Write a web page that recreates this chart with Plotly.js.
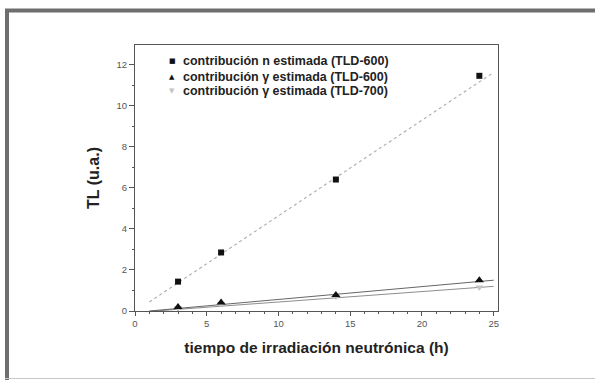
<!DOCTYPE html>
<html>
<head>
<meta charset="utf-8">
<script src="https://cdn.plot.ly/plotly-3.0.1.min.js"></script>
<style>
  body { margin:0; padding:0; background:#ffffff; }
  #myDiv { width:595px; height:380px; }
</style>
</head>
<body>
<div id="myDiv"></div>
<script>
// tiempo de irradiacion (h)
let tiempo=[3,6,14,24];

// contribucion n estimada (TLD-600)
let n_tld600=[1.43,2.85,6.4,11.45];
// contribucion gamma estimada (TLD-600)
let g_tld600=[0.19,0.41,0.78,1.5];
// contribucion gamma estimada (TLD-700)
let g_tld700=[0.14,0.34,0.7,1.16];

// ajustes lineales, extremos
let fit_x=[1,25];
let fit_n600=[0.44,11.62];
let fit_g600=[0.0,1.5];
let fit_g700=[-0.02,1.2];

let names=['contribución n estimada (TLD-600)',
           'contribución \u03b3 estimada (TLD-600)',
           'contribución \u03b3 estimada (TLD-700)'];
let legend_glyphs=['\u25a0','\u25b2','\u25bc'];
let legend_colors=['#111111','#111111','#c4c4c4'];

function plot_tl() {

  let nw=595;
  let nh=380;

  let margin_left=135;
  let margin_right=97;
  let margin_top=45;
  let margin_bottom=69;

  let pw=nw-margin_left-margin_right;
  let ph=nh-margin_top-margin_bottom;

// pixel -> paper
  let px=function(v) { return (v-margin_left)/pw; };
  let py=function(v) { return (nh-margin_bottom-v)/ph; };

  let font_family='"Liberation Sans", Arial, sans-serif';

  let traceFitN = { x: fit_x, y: fit_n600, mode:'lines', type:'scatter', showlegend:false,
                    hoverinfo:'skip', line:{color:'#aaaaaa', width:1.1, dash:'dot'} };
  let traceFitG6 = { x: fit_x, y: fit_g600, mode:'lines', type:'scatter', showlegend:false,
                    hoverinfo:'skip', line:{color:'#555555', width:0.9} };
  let traceFitG7 = { x: fit_x, y: fit_g700, mode:'lines', type:'scatter', showlegend:false,
                    hoverinfo:'skip', line:{color:'#808080', width:0.9} };

  let traceN = { x: tiempo, y: n_tld600, name: names[0], mode:'markers', type:'scatter',
                 marker:{symbol:'square', size:6, color:legend_colors[0]} };
  let traceG6 = { x: tiempo, y: g_tld600, name: names[1], mode:'markers', type:'scatter',
                 marker:{symbol:'triangle-up', size:8, color:legend_colors[1]} };
  let traceG7 = { x: tiempo, y: g_tld700, name: names[2], mode:'markers', type:'scatter',
                 marker:{symbol:'triangle-down', size:7, color:legend_colors[2]} };

  let data=[traceFitN, traceFitG7, traceFitG6, traceG7, traceN, traceG6];

// legend drawn as annotations (rows closer than plotly's legend allows)
  let legend_rows=[61,76.5,90.5];
  let annotations=[];
  for(let i=0;i<names.length;i++) {
    annotations.push({ xref:'paper', yref:'paper', x:px(172), y:py(legend_rows[i]),
        xanchor:'center', yanchor:'middle', showarrow:false, text:legend_glyphs[i],
        font:{ family:'"DejaVu Sans", sans-serif', size:7, color:legend_colors[i] } });
    annotations.push({ xref:'paper', yref:'paper', x:px(181), y:py(legend_rows[i]),
        xanchor:'left', yanchor:'middle', showarrow:false, text:names[i],
        font:{ family:font_family, size:12.5, color:'#222222', weight:'bold' } });
  }

  let frame_color='#6e6e6e';

  let layout = {
paper_bgcolor: '#ffffff',
plot_bgcolor: '#ffffff',
width: nw,
height: nh,
margin: { l:margin_left, t:margin_top, r:margin_right, b:margin_bottom },
showlegend: false,
xaxis: {
    range: [0, 25.3],
    tickmode: 'array',
    tickvals: [0,5,10,15,20,25],
    ticks: 'outside',
    ticklen: 4,
    tickcolor: '#555555',
    tickfont: { family:font_family, size:9.5, color:'#555555' },
    minor: { dtick:1, ticks:'outside', ticklen:2, tickcolor:'#555555', showgrid:false },
    showgrid: false,
    zeroline: false,
    showline: true,
    mirror: true,
    linecolor: '#555555',
    linewidth: 1,
    title: { text:'tiempo de irradiación neutrónica (h)', standoff: 13,
             font: { family:font_family, size:15.5, color:'#222222', weight:'bold' } } },
yaxis: {
    range: [0, 12.95],
    tickmode: 'array',
    tickvals: [0,2,4,6,8,10,12],
    ticks: 'outside',
    ticklen: 5,
    tickcolor: '#555555',
    tickfont: { family:font_family, size:9.5, color:'#555555' },
    minor: { dtick:1, ticks:'outside', ticklen:2, tickcolor:'#555555', showgrid:false },
    showgrid: false,
    zeroline: false,
    showline: true,
    mirror: true,
    linecolor: '#555555',
    linewidth: 1,
    title: { text:'TL (u.a.)', standoff: 12,
             font: { family:font_family, size:16, color:'#222222', weight:'bold' } } },
annotations: annotations,
shapes: [
  { type:'line', xref:'paper', yref:'paper', x0:px(5), x1:px(600), y0:py(10.5), y1:py(10.5),
    line:{color:frame_color, width:4} },
  { type:'line', xref:'paper', yref:'paper', x0:px(7), x1:px(7), y0:py(9), y1:py(385),
    line:{color:frame_color, width:4} },
  { type:'line', xref:'paper', yref:'paper', x0:px(5), x1:px(600), y0:py(378.5), y1:py(378.5),
    line:{color:'#c8c8c8', width:1} }
]
};

  let config = {displayModeBar:false, staticPlot:true};

  Plotly.newPlot('myDiv', data, layout, config);
}

plot_tl();
</script>
</body>
</html>
